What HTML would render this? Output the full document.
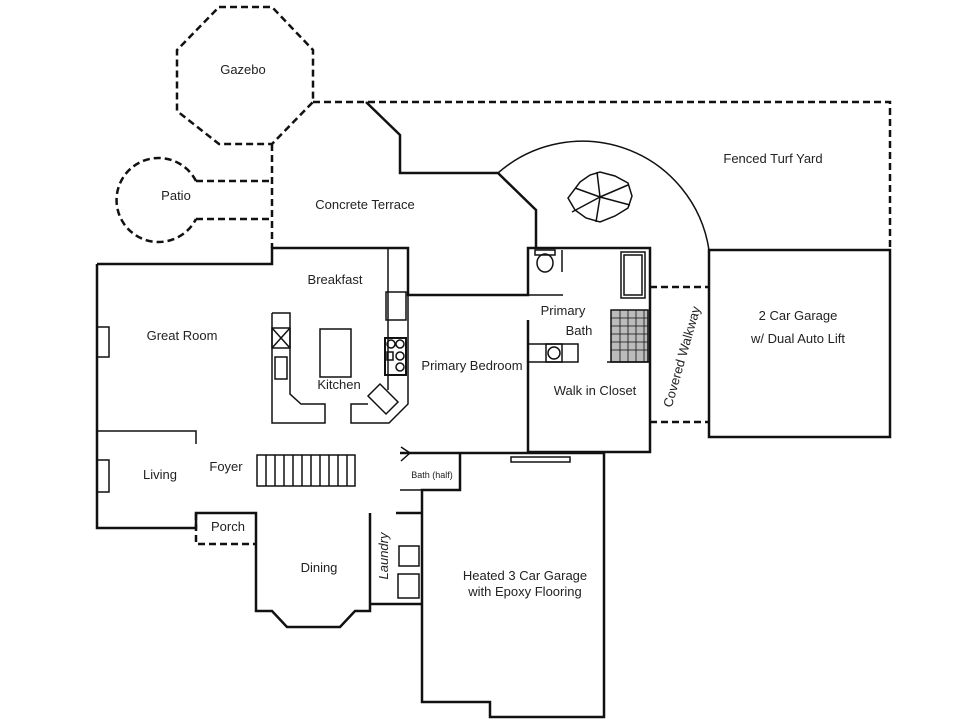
<!DOCTYPE html>
<html><head><meta charset="utf-8"><style>
html,body{margin:0;padding:0;background:#fff;}
svg{display:block;}
text{font-family:"Liberation Sans",sans-serif;font-size:13px;fill:#222;}
</style></head><body>
<svg width="960" height="720" viewBox="0 0 960 720" xmlns="http://www.w3.org/2000/svg">
<rect width="960" height="720" fill="#fff"/>
<g fill="none" stroke="#111" stroke-width="2.5" stroke-dasharray="7,4">
<polygon points="219,7 272,7 313,50 313,102 272,144 219,144 177,111 177,50"/>
<polyline points="313,102 890,102 890,250"/>
<line x1="272" y1="144" x2="272" y2="248"/>
<path d="M196,181 A42,42 0 1 0 196,219"/>
<line x1="196" y1="181" x2="272" y2="181"/>
<line x1="196" y1="219" x2="272" y2="219"/>
<polyline points="196,513 196,544 256,544"/>
<line x1="650" y1="287" x2="709" y2="287"/>
<line x1="650" y1="422" x2="709" y2="422"/>
</g>
<g fill="none" stroke="#111" stroke-width="2.5">
<polyline points="366,102 400,135 400,173 498,173 536,210 536,248"/>
<polyline points="97,264 272,264 272,248 408,248 408,295 528,295 528,248 650,248 650,452 528,452 528,320"/>
<polyline points="97,264 97,528 196,528 196,513 256,513 256,611 272,611 287,627 340,627 355,611 370,611 370,513"/>
<polyline points="370,604 422,604"/>
<polyline points="400,453 460,453 460,490 422,490 422,702 490,702 490,717 604,717 604,453 460,453"/>
<line x1="396" y1="513" x2="422" y2="513"/>
<rect x="709" y="250" width="181" height="187"/>
</g>
<g fill="none" stroke="#111" stroke-width="1.5">
<path d="M498,173 A128,128 0 0 1 709,250"/>
<polyline points="97,431 196,431 196,444"/>
<rect x="97" y="327" width="12" height="30"/><rect x="97" y="460" width="12" height="32"/>
<polyline points="272,313 290,313 290,394 301,404 325,404 325,423 272,423 272,313"/>
<rect x="272" y="328" width="18" height="20"/><line x1="272" y1="328" x2="290" y2="348"/><line x1="290" y1="328" x2="272" y2="348"/>
<rect x="275" y="357" width="12" height="22"/>
<rect x="320" y="329" width="31" height="48"/>
<polyline points="388,248 388,390"/>
<polyline points="408,295 408,404 389,423 351,423 351,404 368,404"/>
<rect x="386" y="292" width="20" height="28"/>
<rect x="385" y="338" width="21" height="37" stroke-width="2"/>
<circle cx="391" cy="344" r="4"/><circle cx="400" cy="344" r="4"/><circle cx="400" cy="356" r="4"/><circle cx="400" cy="367" r="4"/><rect x="387" y="352" width="6" height="8"/>
<polygon points="368,396 380,384 398,402 386,414"/>
<rect x="257" y="455" width="98" height="31"/>
<path d="M266,455v31M275,455v31M284,455v31M293,455v31M302,455v31M311,455v31M320,455v31M329,455v31M338,455v31M347,455v31"/>
<polyline points="401,447 410,453 401,461"/>
<line x1="400" y1="490" x2="422" y2="490"/>
<line x1="528" y1="295" x2="563" y2="295"/>
<line x1="562" y1="250" x2="562" y2="272"/>
<ellipse cx="545" cy="263" rx="8" ry="9"/><rect x="535" y="250" width="20" height="5"/>
<rect x="528" y="344" width="50" height="18"/><rect x="546" y="344" width="16" height="18"/><circle cx="554" cy="353" r="6"/>
<rect x="621" y="252" width="24" height="46"/><rect x="624" y="255" width="18" height="40"/>
<rect x="611" y="310" width="37" height="52" fill="#bbb"/>
<line x1="607" y1="362" x2="650" y2="362"/>
<rect x="511" y="457" width="59" height="5"/>
<rect x="399" y="546" width="20" height="20"/><rect x="398" y="574" width="21" height="24"/>
<path d="M580,182 L590,175 600,172 615,176 628,183 632,196 628,208 615,216 600,222 586,218 575,210 568,198 Z"/>
<path d="M600,197L597,172M600,197L628,185M600,197L630,205M600,197L596,222M600,197L572,212M600,197L575,188"/>
</g>
<g stroke="#111" stroke-width="0.8">
<path d="M611,318h37M611,326h37M611,334h37M611,342h37M611,350h37M620,310v52M628,310v52M636,310v52M644,310v52"/>
</g>
<text x="243" y="74" text-anchor="middle">Gazebo</text>
<text x="176" y="200" text-anchor="middle">Patio</text>
<text x="365" y="209" text-anchor="middle">Concrete Terrace</text>
<text x="773" y="163" text-anchor="middle">Fenced Turf Yard</text>
<text x="335" y="284" text-anchor="middle">Breakfast</text>
<text x="182" y="340" text-anchor="middle">Great Room</text>
<text x="339" y="389" text-anchor="middle">Kitchen</text>
<text x="472" y="370" text-anchor="middle">Primary Bedroom</text>
<text x="563" y="315" text-anchor="middle">Primary</text>
<text x="579" y="335" text-anchor="middle">Bath</text>
<text x="595" y="395" text-anchor="middle">Walk in Closet</text>
<text x="798" y="320" text-anchor="middle">2 Car Garage</text>
<text x="798" y="343" text-anchor="middle">w/ Dual Auto Lift</text>
<text transform="translate(686,358) rotate(-74)" text-anchor="middle">Covered Walkway</text>
<text x="160" y="479" text-anchor="middle">Living</text>
<text x="226" y="471" text-anchor="middle">Foyer</text>
<text x="432" y="478" text-anchor="middle" style="font-size:9px">Bath (half)</text>
<text x="228" y="531" text-anchor="middle">Porch</text>
<text x="319" y="572" text-anchor="middle">Dining</text>
<text transform="translate(388,556) rotate(-90)" text-anchor="middle" style="font-style:italic">Laundry</text>
<text x="525" y="580" text-anchor="middle">Heated 3 Car Garage</text>
<text x="525" y="596" text-anchor="middle">with Epoxy Flooring</text>
</svg>
</body></html>
